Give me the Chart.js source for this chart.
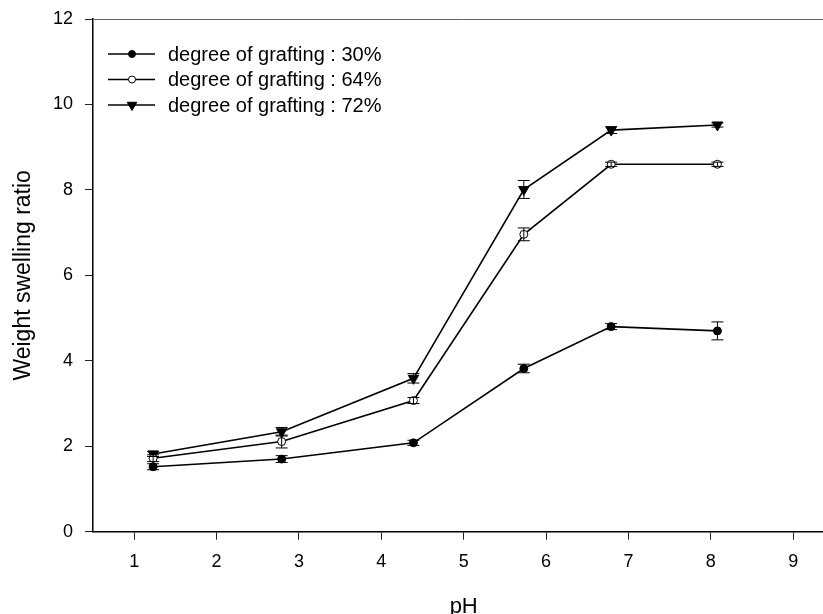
<!DOCTYPE html>
<html>
<head>
<meta charset="utf-8">
<script src="https://cdn.jsdelivr.net/npm/chart.js@4/dist/chart.umd.min.js"></script>
<style>
  html, body { margin: 0; padding: 0; background: #fff; overflow: hidden; }
  #wrap { width: 823px; height: 614px; overflow: hidden; }
</style>
</head>
<body>
<div id="wrap"><canvas id="grafico" width="845" height="630"></canvas></div>
<script>
// valores
const phValues = [1.23, 2.79, 4.39, 5.73, 6.79, 8.08];
const ratio30 = [1.52, 1.70, 2.08, 3.82, 4.80, 4.70];
const err30 = [0.07, 0.08, 0.06, 0.10, 0.07, 0.21];
const ratio64 = [1.72, 2.11, 3.07, 6.96, 8.60, 8.60];
const err64 = [0.08, 0.15, 0.07, 0.15, 0.05, 0.05];
const ratio72 = [1.82, 2.34, 3.59, 8.01, 9.40, 9.52];
const err72 = [0.06, 0.10, 0.11, 0.21, 0.08, 0.05];
const seriesLabels = ['degree of grafting : 30%', 'degree of grafting : 64%', 'degree of grafting : 72%'];
const xTicks = [1, 2, 3, 4, 5, 6, 7, 8, 9];
const yTicks = [0, 2, 4, 6, 8, 10, 12];

Chart.defaults.font.family = 'Arial, "Liberation Sans", sans-serif';
Chart.defaults.color = '#000';

function puntos(vals) {
    return phValues.map((x, i) => ({ x: x, y: vals[i] }));
}

const estilos = [
    { pointStyle: 'circle', radius: 4, rotation: 0, fill: '#000' },
    { pointStyle: 'circle', radius: 4, rotation: 0, fill: '#fff' },
    { pointStyle: 'triangle', radius: 6, rotation: 180, fill: '#000' }
];
const errores = [err30, err64, err72];

// barras de error
const errorBars = {
    id: 'errorBars',
    afterDatasetsDraw(chart) {
        const ctx = chart.ctx;
        const xs = chart.scales.x, ys = chart.scales.y;
        ctx.save();
        ctx.strokeStyle = '#000';
        ctx.lineWidth = 1;
        chart.data.datasets.forEach((ds, k) => {
            ds.data.forEach((p, i) => {
                const e = errores[k][i];
                const px = xs.getPixelForValue(p.x);
                const y1 = ys.getPixelForValue(p.y + e);
                const y2 = ys.getPixelForValue(p.y - e);
                ctx.beginPath();
                ctx.moveTo(px, y1); ctx.lineTo(px, y2);
                ctx.moveTo(px - 6, y1); ctx.lineTo(px + 6, y1);
                ctx.moveTo(px - 6, y2); ctx.lineTo(px + 6, y2);
                ctx.stroke();
            });
        });
        ctx.restore();
    }
};

// marco superior / derecho
const marco = {
    id: 'marco',
    beforeDatasetsDraw(chart) {
        const a = chart.chartArea, ctx = chart.ctx;
        ctx.save();
        ctx.strokeStyle = '#666';
        ctx.lineWidth = 1;
        ctx.beginPath();
        ctx.moveTo(a.left, a.top + 0.5);
        ctx.lineTo(a.right, a.top + 0.5);
        ctx.lineTo(a.right, a.bottom);
        ctx.stroke();
        ctx.restore();
    }
};

// leyenda dentro del area
const leyenda = {
    id: 'leyenda',
    afterDraw(chart) {
        const a = chart.chartArea, ctx = chart.ctx;
        ctx.save();
        ctx.font = '20px Arial, "Liberation Sans", sans-serif';
        ctx.textBaseline = 'middle';
        chart.data.datasets.forEach((ds, k) => {
            const y = a.top + 35 + k * 25.5;
            const x0 = a.left + 15;
            ctx.strokeStyle = '#000';
            ctx.lineWidth = 1.5;
            ctx.beginPath();
            ctx.moveTo(x0, y); ctx.lineTo(x0 + 47, y);
            ctx.stroke();
            const st = estilos[k];
            ctx.fillStyle = st.fill;
            ctx.lineWidth = 1;
            Chart.helpers.drawPoint(ctx, {
                pointStyle: st.pointStyle, radius: st.radius - 0.5,
                rotation: st.rotation, borderWidth: 1
            }, x0 + 24, y);
            ctx.fillStyle = '#000';
            ctx.fillText(ds.label, x0 + 60, y + 1);
        });
        ctx.restore();
    }
};

const datasets = [ratio30, ratio64, ratio72].map((vals, k) => ({
    label: seriesLabels[k],
    data: puntos(vals),
    borderColor: '#000',
    borderWidth: 1.6,
    pointStyle: estilos[k].pointStyle,
    pointRotation: estilos[k].rotation,
    pointRadius: estilos[k].radius,
    pointBackgroundColor: estilos[k].fill,
    pointBorderColor: '#000',
    pointBorderWidth: 1,
    fill: false,
    tension: 0
}));

const ctx = document.getElementById('grafico').getContext('2d');
const chart = new Chart(ctx, {
    type: 'line',
    data: { datasets: datasets },
    options: {
        responsive: false,
        animation: false,
        devicePixelRatio: 1,
        layout: { padding: { top: 19, right: 10.6, left: 0, bottom: 0 } },
        plugins: {
            legend: { display: false },
            tooltip: { enabled: false }
        },
        scales: {
            x: {
                type: 'linear',
                min: 0.5,
                max: 9.5,
                afterBuildTicks: (s) => { s.ticks = xTicks.map(v => ({ value: v })); },
                afterFit: (s) => { s.height = 98.3; s.paddingLeft = 0; s.paddingRight = 0; },
                border: { display: true, color: '#000', width: 1.5 },
                grid: { display: true, drawOnChartArea: false, drawTicks: true, tickLength: 8, color: '#222', lineWidth: 1 },
                ticks: { font: { size: 18 }, padding: 12, maxRotation: 0 },
                title: { display: true, text: 'pH', font: { size: 22 }, padding: { top: 0, bottom: 10 } }
            },
            y: {
                min: 0,
                max: 12,
                afterBuildTicks: (s) => { s.ticks = yTicks.map(v => ({ value: v })); },
                afterFit: (s) => { s.width = 93; s.paddingTop = 0; s.paddingBottom = 0; },
                border: { display: true, color: '#000', width: 1.5 },
                grid: { display: true, drawOnChartArea: false, drawTicks: true, tickLength: 8, color: '#222', lineWidth: 1 },
                ticks: { font: { size: 18 }, padding: 12 },
                title: { display: true, text: 'Weight swelling ratio', font: { size: 23 }, padding: { top: 10, bottom: 0 } }
            }
        }
    },
    plugins: [marco, errorBars, leyenda]
});
</script>
</body>
</html>
